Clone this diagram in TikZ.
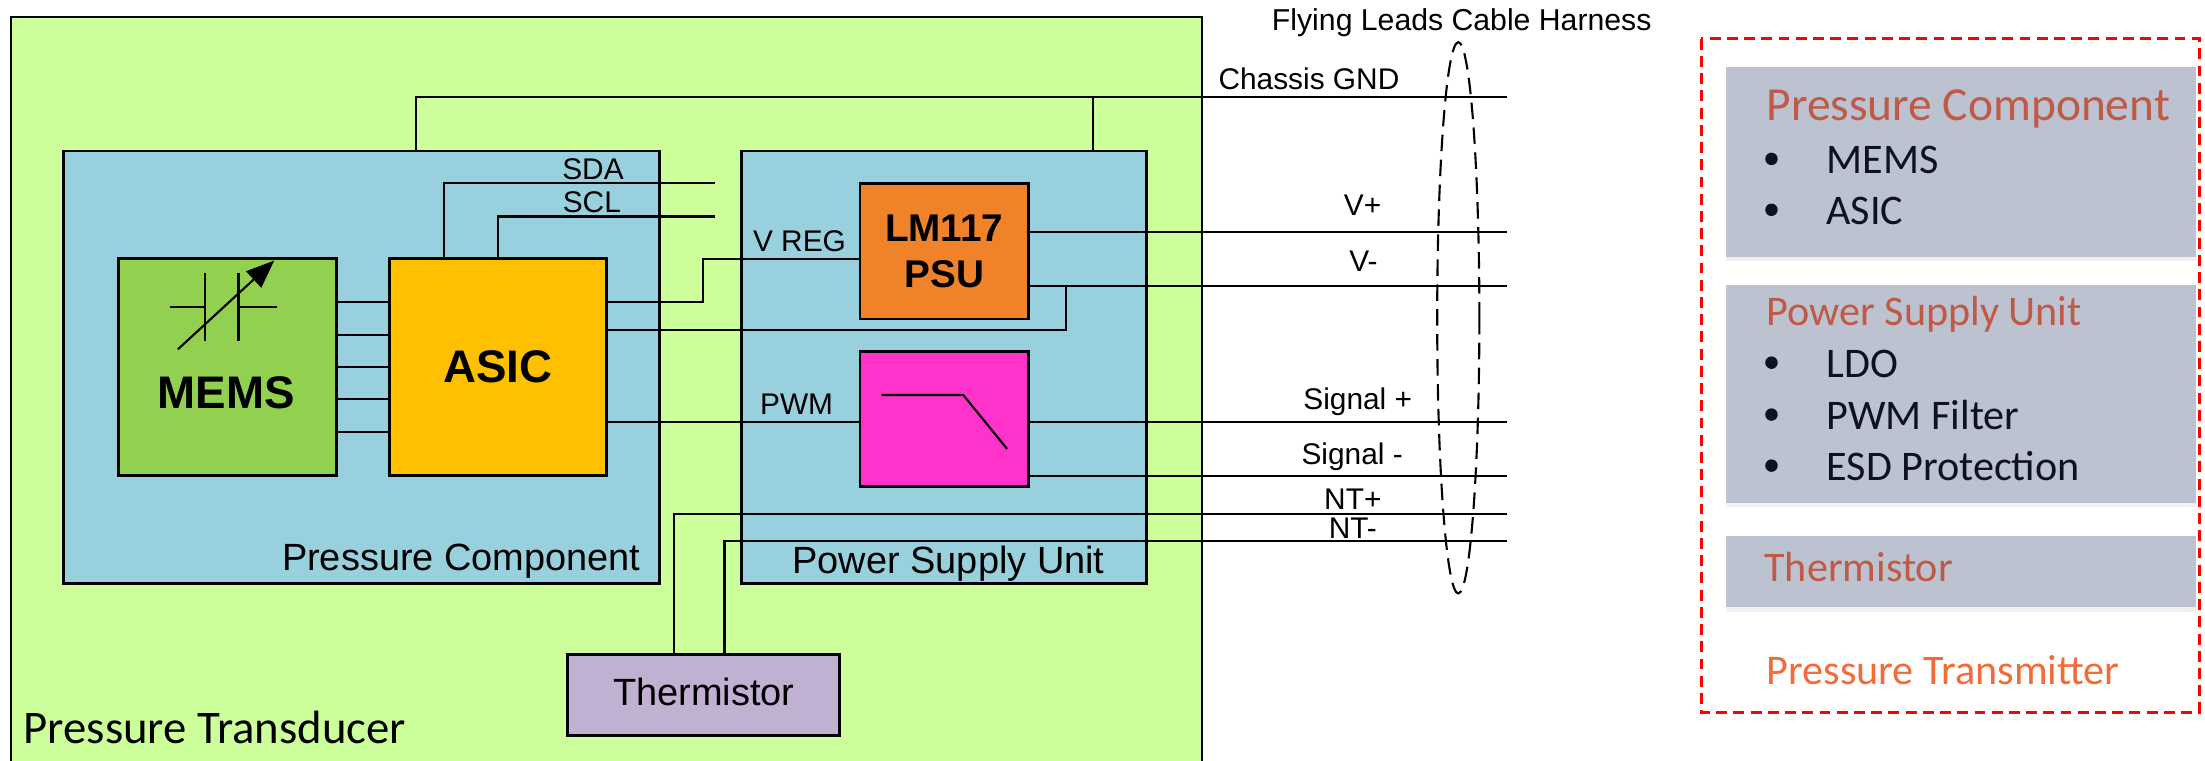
\documentclass[tikz,border=0pt]{standalone}
\usepackage{fontspec}
\setmainfont{Liberation Sans}
\newfontfamily\calibri{Carlito}
\usepackage{tikz}
\usetikzlibrary{arrows.meta,fit,shadows,positioning}
\definecolor{transgreen}{HTML}{CCFF99}
\definecolor{unitblue}{HTML}{99D0DD}
\definecolor{memsgreen}{HTML}{92D050}
\definecolor{asicorange}{HTML}{FFC000}
\definecolor{psuorange}{HTML}{F0822A}
\definecolor{filtpink}{HTML}{FF33CC}
\definecolor{thermlilac}{HTML}{C0B0D2}
\definecolor{panelgrey}{HTML}{BCC2D0}
\definecolor{headred}{HTML}{C05A45}
\definecolor{txorange}{HTML}{F46B3A}
\definecolor{itemnavy}{HTML}{0C1224}

\begin{document}
\begin{tikzpicture}[x=0.014062cm, y=-0.014062cm, wire/.style={line width=0.6pt}, box/.style={draw, line width=0.8pt, inner sep=0pt},
    txt/.style={inner sep=0pt, font=\fontsize{10.8}{13}\selectfont}, sig/.style={inner sep=0pt, font=\fontsize{8.5}{10}\selectfont},
    chip/.style={inner sep=0pt, font=\bfseries\fontsize{13}{15}\selectfont}, panel/.style={fill=panelgrey, inner sep=0pt, drop shadow={shadow xshift=0pt, shadow yshift=-1.2pt, opacity=0.12}},
    head/.style={inner sep=0pt, text=headred, font=\calibri\fontsize{12}{14}\selectfont}, item/.style={inner sep=0pt, text=itemnavy, font=\calibri\fontsize{12}{14}\selectfont},
    dot/.style={circle, fill=itemnavy, inner sep=0pt, minimum size=0.125cm}]
        \useasboundingbox (0,0) rectangle (1568,541);

        \node[box, line width=0.6pt, fill=transgreen, fit={(8,12) (855,548)}]   (trans) {};
        \node[box, fill=unitblue, fit={(45,107.4) (469,415.2)}]                (pc)    {};
        \node[box, fill=unitblue, fit={(527,107.4) (815.5,415.2)}]             (psu)   {};
        \node[box, fill=memsgreen, fit={(84,184) (239,338.4)}]                 (mems)  {};
        \node[box, fill=asicorange, fit={(277,184) (431,338.4)}]               (asic)  {};
        \node[box, fill=psuorange, fit={(611.5,130.3) (731.4,226.8)}]          (lm)    {};
        \node[box, fill=filtpink, fit={(611.5,250) (731.4,346)}]               (filt)  {};
        \node[box, fill=thermlilac, fit={(403.6,465.2) (596.8,523.3)}]         (therm) {};

        \node[chip, anchor=base]        (memslbl)  at (161,290.3)   {MEMS};
        \node[chip, anchor=base]        (asiclbl)  at (354,272)     {ASIC};
        \node[chip, align=center, font=\bfseries\fontsize{11}{13.1}\selectfont] (lmlbl) at (lm.center) {LM117\\PSU};
        \node[txt, anchor=base east]    (pclbl)    at (456,405.8)   {Pressure Component};
        \node[txt, anchor=base east]    (psulbl)   at (786,407.6)   {Power Supply Unit};
        \node[txt, anchor=base]         (thermlbl) at (500.5,502)   {Thermistor};
        \node[inner sep=0pt, anchor=base west, font=\calibri\fontsize{13.3}{15}\selectfont] (translbl) at (16.3,528.5) {Pressure Transducer};

        \node[sig, anchor=base east]    (sdalbl)   at (444,128)     {SDA};
        \node[sig, anchor=base east]    (scllbl)   at (442,151)     {SCL};
        \node[sig, anchor=base west]    (vreglbl)  at (535,179)     {V REG};
        \node[sig, anchor=base west]    (pwmlbl)   at (540,294.6)   {PWM};
        \node[sig, anchor=base west]    (gndlbl)   at (866,63.5)    {Chassis GND};
        \node[sig, anchor=base]         (vplbl)    at (969,153.6)   {V+};
        \node[sig, anchor=base]         (vmlbl)    at (969.5,193)   {V-};
        \node[sig, anchor=base]         (splbl)    at (965.5,291)   {Signal +};
        \node[sig, anchor=base]         (smlbl)    at (961.5,330.6) {Signal -};
        \node[sig, anchor=base]         (ntplbl)   at (962,362)     {NT+};
        \node[sig, anchor=base]         (ntmlbl)   at (962,382.7)   {NT-};
        \node[sig, anchor=base west, font=\fontsize{8.6}{10}\selectfont] (harnlbl) at (904,21.8) {Flying Leads Cable Harness};

        \coordinate (sdaend) at (508.4,130.4);
        \coordinate (sclend) at (508.4,154);
        \coordinate (gnd)    at (1071.7,69);
        \coordinate (vp)     at (1071.7,164.7);
        \coordinate (vm)     at (1071.7,203.4);
        \coordinate (sp)     at (1071.7,300.3);
        \coordinate (sm)     at (1071.7,338.3);
        \coordinate (ntp)    at (1071.7,365.2);
        \coordinate (ntm)    at (1071.7,384.7);

        \foreach \y in {214.5,238,261,284,307}
            \draw[wire] (mems.east |- 0,\y) -- (asic.west |- 0,\y);
        \draw[wire] (296,0 |- pc.north) |- (gnd);
        \draw[wire] (777,0 |- psu.north) -- (777,0 |- gnd);
        \draw[wire] (315.6,0 |- asic.north) |- (sdaend);
        \draw[wire] (354,0 |- asic.north) |- (sclend);
        \draw[wire] (asic.east |- 0,215) -| (500,184.2) -- (lm.west |- 0,184.2);
        \draw[wire] (asic.east |- 0,234.6) -| (758,203.4);
        \draw[wire] (lm.east |- 0,164.7) -- (vp);
        \draw[wire] (lm.east |- 0,203.4) -- (vm);
        \draw[wire] (asic.east |- 0,300.3) -- (filt.west |- 0,300.3);
        \draw[wire] (filt.east |- 0,300.3) -- (sp);
        \draw[wire] (filt.east |- 0,338.3) -- (sm);
        \draw[wire] (479.3,0 |- therm.north) |- (ntp);
        \draw[wire] (515.2,0 |- therm.north) |- (ntm);

        \draw[wire] (121,218.5) -- (146,218.5) (146,193.9) -- (146,242.5) (169.6,193.9) -- (169.6,242.5) (169.6,218.5) -- (197,218.5);
        \draw[wire, -{Triangle[length=0.28cm, width=0.22cm]}] (126.5,248.4) -- (195,185.3);
        \draw[wire] (626.9,280.9) -- (685,280.9) -- (716.2,319.3);

        \draw[wire, dash pattern=on 4.7pt off 2.4pt] (1037,226) ellipse [x radius=15, y radius=196];

        \draw[red, line width=0.9pt, dash pattern=on 3.1pt off 1.8pt] (1209.7,27.6) rectangle (1564,506.5);
        \node[panel, fit={(1227.3,47.3) (1561.6,182.9)}]  (pcpanel)    {};
        \node[panel, fit={(1227.3,202.9) (1561.6,357.8)}] (psupanel)   {};
        \node[panel, fit={(1227.3,381.2) (1561.6,432)}]   (thermpanel) {};

        \node[head, anchor=base west, font=\calibri\fontsize{13.5}{15}\selectfont] (pchead) at (1255.8,85.6) {Pressure Component};
        \node[head, anchor=base west] (psuhead)   at (1255.8,231.8) {Power Supply Unit};
        \node[head, anchor=base west] (thermhead) at (1254.2,413.3) {Thermistor};
        \node[head, anchor=base west, text=txorange] (txhead) at (1255.8,487) {Pressure Transmitter};
        \foreach \name/\y/\t in {memsitem/123.5/MEMS, asicitem/159.7/ASIC, ldoitem/268.4/LDO, pwmitem/305.3/PWM Filter, esditem/341.6/ESD Protection} {
            \node[dot] (\name dot) at (1259.7,\y-10.5) {};
            \node[item, anchor=base west] (\name) at (1298.3,\y) {\t};
        }
\end{tikzpicture}
\end{document}
